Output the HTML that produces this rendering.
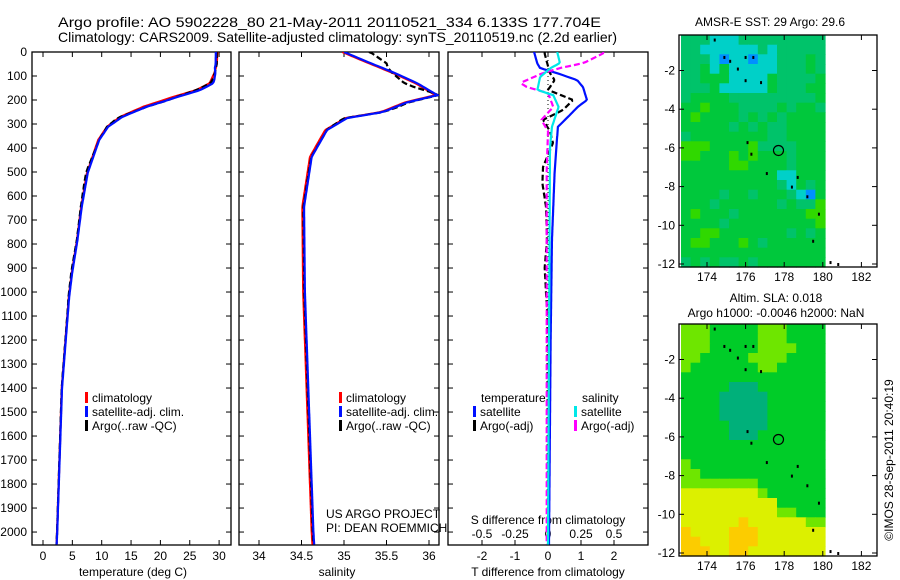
<!DOCTYPE html>
<html><head><meta charset="utf-8"><style>
body{margin:0;background:#fff}
svg{display:block;font-family:"Liberation Sans",sans-serif;font-size:12px}
</style></head><body>
<svg id="c" width="900" height="580" viewBox="0 0 900 580">
<rect width="900" height="580" fill="#fff"/>
<text x="58" y="27" font-size="14" textLength="543" lengthAdjust="spacingAndGlyphs">Argo profile: AO 5902228_80 21-May-2011 20110521_334 6.133S 177.704E</text>
<text x="58" y="42" font-size="14" textLength="559" lengthAdjust="spacingAndGlyphs">Climatology: CARS2009. Satellite-adjusted climatology: synTS_20110519.nc (2.2d earlier)</text>
<g id="g"></g>
</svg>
<script>
// ---- data ----
const depthTicks=[0,100,200,300,400,500,600,700,800,900,1000,1100,1200,1300,1400,1500,1600,1700,1800,1900,2000];
const tempTicks=[0,5,10,15,20,25,30];
const salTicks=[34,34.5,35,35.5,36];
const tdTicks=[-2,-1,0,1,2];
const sdTicks=[-0.5,-0.25,0,0.25,0.5];
const sdTickLabels=['-0.5','-0.25','0','0.25','0.5'];
const tDepth=[0,50,88,130,158,192,229,271,312,367,504,646,783,921,1021,1400,2000,2054];
const tClim=[29.7,29.6,29.2,28.4,26.2,21.6,17,13.1,10.9,9.4,7.5,6.5,5.8,4.9,4.4,3.2,2.4,2.3];
const sDepth=[0,33,88,130,180,210,250,275,325,437,645,1000,1400,2000,2054];
const sClim=[35.0,35.22,35.6,35.86,36.1,35.74,35.46,35.04,34.8,34.62,34.53,34.54,34.58,34.64,34.65];
const tSatD=[0,46,67,88,117,146,200,229,271,312,367,504,783,1200,2054];
const tSatV=[-0.42,-0.33,-0.24,0.27,0.88,1.06,1.18,0.9,0.6,0.3,0.27,0.2,0.12,0.08,0.03];
const tArgD=[8,88,117,158,200,242,283,330,379,479,546,646,783,900,1100,2054];
const tArgV=[-0.1,0.06,0.2,0.0,0.76,0.45,-0.15,0.06,0.15,-0.15,-0.17,-0.06,-0.03,-0.1,-0.02,0];
const sSatD=[0,46,67,104,158,180,229,312,400,2054];
const sSatV=[0.07,0.09,0.02,-0.06,-0.08,0.04,0.08,0.03,0.015,0];
const sArgD=[5,46,67,88,129,146,171,229,283,330,500,2054];
const sArgV=[0.42,0.27,0.09,-0.04,-0.21,-0.16,0,0.04,-0.05,0,-0.01,-0.01];
const latTicks=[-2,-4,-6,-8,-10,-12];
const lonTicks=[174,176,178,180,182];
const argoLon=177.704, argoLat=-6.133;
const sstGrid=[
"tttcccttttttttt","ttcccccctcttttt","tttcbccbcctttgt","ttgcgccccctttgt","ttgggccccgttttg","tttgcccccgtttgg",
"tggggtttttttttg","gglgggttttgtggt","glggggtgtgtgggg","gggggtgtgttgggg","tggggggggttgggg","lllgggglttttggg",
"llggglglgggtggg","gggggllggggtggg","ggggggggggccggg","ggggggggggtcgtg","ggggtggtgggtcbg","gggtggggggtgttl",
"glgggtgggggggll","ggggtgggggggggl","ggllgggggggtgtg","gllggglgtgggggg","ggggggggggggggg","tgtgttgtggggggg"];
const slaGrid=[
"LLLGGGGGLLLGGGG","LLLGGGGGLLLGGGG","LLLGGGGGLLLLGGG","LLGGGGGLLLLGGGG","LGGGGGGGLLGGGGG","GGGGGGGGGGGGGGG",
"GGGGGDDDGGGGGGG","GGGGDDDDDGGGGGG","GGGGDDDDDGGGGGG","GGGGDDDDDGGGGGG","GGGGGDDDDGGGGGG","GGGGGDDDGGGGGGG",
"GGGGGGGGGGGGGGG","GGGGGGGGGGGGGGG","LGGGGGGGGGGGGGG","LLGGGGGGGGGGGGG","LLLLLLLLGGGGGGG","YYYYYYYYLGGGGGG",
"YYYYYYYYYYGGGGG","YYYYYYYYYYLLGGG","YYYYYYOYYYYYYLL","OYYYYOOOYYYYYYY","OOYYYOOOYYYYYYY","OOOYYOOYYYYYYYY"];
const sstColors={t:'#00c36a',c:'#00d0c8',b:'#0090ff',g:'#00c83c',l:'#30d800'};
const slaColors={L:'#6ee600',G:'#00cc28',D:'#00b07a',Y:'#dcf000',O:'#fccc00'};
const coast=[[174.4,-0.4],[174.9,-1.3],[175.2,-1.5],[175.6,-1.9],[176,-1.3],[176.4,-1.3],[176,-2.5],[176.8,-2.6],[176.1,-5.7],[176.3,-6.3],[177.1,-7.3],[178.4,-8],[178.7,-7.5],[179.2,-8.5],[179.8,-9.4],[179.5,-10.8],[180.4,-11.9],[180.8,-12]];

// ---- helpers ----
const NS='http://www.w3.org/2000/svg';
const G=document.getElementById('g');
function mk(t,a,p){const e=document.createElementNS(NS,t);for(const k in a)e.setAttribute(k,a[k]);(p||G).appendChild(e);return e;}
function interp(ds,vs,d){if(d<=ds[0])return vs[0];for(let i=1;i<ds.length;i++){if(d<=ds[i]){const f=(d-ds[i-1])/(ds[i]-ds[i-1]);return vs[i-1]+f*(vs[i]-vs[i-1]);}}return vs[vs.length-1];}
const TOP=52,BOT=545,DMAX=2054;
const yD=d=>TOP+d/DMAX*(BOT-TOP);
const xT=t=>43+t*5.87;
const xS=s=>259+(s-34)*85;
const xTD=v=>548+v*33;
const xSD=v=>548+v*132;
function poly(pts,color,name,dash){const e=mk('polyline',{points:pts.map(p=>p[0].toFixed(1)+','+p[1].toFixed(1)).join(' '),fill:'none',stroke:color,'stroke-width':2.2,'clip-path':'url(#cl)'});if(dash)e.setAttribute('stroke-dasharray',dash);

return e;}
function txt(x,y,s,anchor,name,extra){const e=mk('text',Object.assign({x:x,y:y,'text-anchor':anchor||'start'},extra||{}));e.textContent=s;

return e;}

const panels=[[32,231],[239,439],[448,648]];
const defs=mk('defs',{});
panels.forEach((p,i)=>{const cp=mk('clipPath',{id:i==0?'cl':'cl'+i},defs);mk('rect',{x:p[0],y:TOP,width:p[1]-p[0],height:BOT-TOP},cp);});

panels.forEach((p,i)=>{
  const r=mk('rect',{x:p[0],y:TOP,width:p[1]-p[0],height:BOT-TOP,fill:'none',stroke:'#000','stroke-width':1.3});
  
  
  depthTicks.forEach(d=>{const y=yD(d);mk('line',{x1:p[0],x2:p[0]+5,y1:y,y2:y,stroke:'#000'});mk('line',{x1:p[1]-5,x2:p[1],y1:y,y2:y,stroke:'#000'});});
});
depthTicks.forEach(d=>txt(27,yD(d)+4,String(d),'end','depth-tick-label'));
tempTicks.forEach(t=>{mk('line',{x1:xT(t),x2:xT(t),y1:TOP,y2:TOP+5,stroke:'#000'});mk('line',{x1:xT(t),x2:xT(t),y1:BOT-5,y2:BOT,stroke:'#000'});txt(xT(t),560,String(t),'middle','temp-tick-label');});
txt(133,576,'temperature (deg C)','middle','x-axis-title-temperature');
salTicks.forEach(s=>{mk('line',{x1:xS(s),x2:xS(s),y1:TOP,y2:TOP+5,stroke:'#000'});mk('line',{x1:xS(s),x2:xS(s),y1:BOT-5,y2:BOT,stroke:'#000'});txt(xS(s),560,String(s),'middle','salinity-tick-label');});
txt(337,576,'salinity','middle','x-axis-title-salinity');
tdTicks.forEach(v=>{mk('line',{x1:xTD(v),x2:xTD(v),y1:TOP,y2:TOP+5,stroke:'#000'});mk('line',{x1:xTD(v),x2:xTD(v),y1:BOT-5,y2:BOT,stroke:'#000'});txt(xTD(v),560,String(v),'middle','tdiff-tick-label');});
sdTicks.forEach((v,i)=>txt(xSD(v),538,sdTickLabels[i],'middle','sdiff-tick-label'));
txt(548,524,'S difference from climatology','middle','sdiff-axis-title');
txt(548,576,'T difference from climatology','middle','tdiff-axis-title');
mk('line',{x1:548,x2:548,y1:TOP,y2:BOT,stroke:'#000','stroke-dasharray':'1,3'});

const dense=[];for(let d=0;d<=DMAX;d+=6)dense.push(d);
poly(dense.map(d=>[xT(interp(tDepth,tClim,d)),yD(d)]),'#f00','temp-climatology-line');
poly(dense.map(d=>[xT(interp(tDepth,tClim,d)+interp(tArgD,tArgV,d)),yD(d)]),'#000','temp-argo-line','6,3');
poly(dense.map(d=>[xT(interp(tDepth,tClim,d)+interp(tSatD,tSatV,d)*0.6),yD(d)]),'#0010ff','temp-satellite-line');
poly(dense.map(d=>[xS(interp(sDepth,sClim,d)-0.02),yD(d)]),'#f00','sal-climatology-line').setAttribute('clip-path','url(#cl1)');
poly(dense.map(d=>[xS(interp(sDepth,sClim,d)+interp(sArgD,sArgV,d)*0.7),yD(d)]),'#000','sal-argo-line','6,3').setAttribute('clip-path','url(#cl1)');
poly(dense.map(d=>[xS(interp(sDepth,sClim,d)),yD(d)]),'#0010ff','sal-satellite-line').setAttribute('clip-path','url(#cl1)');
poly(dense.map(d=>[xTD(interp(tArgD,tArgV,d)),yD(d)]),'#000','tdiff-argo-line','6,3').setAttribute('clip-path','url(#cl2)');
poly(dense.map(d=>[xTD(interp(tSatD,tSatV,d)),yD(d)]),'#0010ff','tdiff-satellite-line').setAttribute('clip-path','url(#cl2)');
poly(dense.map(d=>[xSD(interp(sArgD,sArgV,d)),yD(d)]),'#ff00ff','sdiff-argo-line','6,3').setAttribute('clip-path','url(#cl2)');
poly(dense.map(d=>[xSD(interp(sSatD,sSatV,d)),yD(d)]),'#00e8e8','sdiff-satellite-line').setAttribute('clip-path','url(#cl2)');

function leg(x,y,c,s,name){const r=mk('rect',{x:x,y:y-10,width:3,height:11,fill:c});txt(x+7,y,s,'start',name);}
[[85,'#f00','climatology'],[85,'#0010ff','satellite-adj. clim.'],[85,'#000','Argo(..raw -QC)']].forEach((l,i)=>leg(l[0],402+i*14,l[1],l[2],'legend-entry-temp'));
[[339,'#f00','climatology'],[339,'#0010ff','satellite-adj. clim.'],[339,'#000','Argo(..raw -QC)']].forEach((l,i)=>leg(l[0],402+i*14,l[1],l[2],'legend-entry-sal'));
txt(326,518,'US ARGO PROJECT','start','project-label');
txt(326,532,'PI: DEAN ROEMMICH','start','pi-label');
txt(481,402,'temperature','start','legend-header-temperature');
txt(582,402,'salinity','start','legend-header-salinity');
leg(473,416,'#0010ff','satellite','legend-entry-tdiff-sat');
leg(473,430,'#000','Argo(-adj)','legend-entry-tdiff-argo');
leg(574,416,'#00e8e8','satellite','legend-entry-sdiff-sat');
leg(574,430,'#ff00ff','Argo(-adj)','legend-entry-sdiff-argo');

function drawMap(top,bottom,grid,colors,name){
  const L=679,R=877;
  const xL=lon=>707+(lon-174)*19.3;
  const y0=bottom-3;
  const ppd=19.35;
  const yy=lat=>y0-(lat+12)*ppd;
  const cols=grid[0].length;
  const cw=(825-681)/cols;
  const gh=(bottom-top)/grid.length;
  grid.forEach((row,r)=>{for(let c=0;c<cols;c++){const col=colors[row[c]]||colors[Object.keys(colors)[0]];
    mk('rect',{x:(681+c*cw).toFixed(1),y:(top+r*gh).toFixed(1),width:(cw+0.6).toFixed(1),height:(gh+0.6).toFixed(1),fill:col});}});
  coast.forEach(p=>{const e=mk('rect',{x:xL(p[0])-1,y:yy(p[1])-1,width:2,height:3,fill:'#000'});});
  const ci=mk('circle',{cx:xL(argoLon),cy:yy(argoLat),r:5,fill:'none',stroke:'#000','stroke-width':1.2});
  
  
  const f=mk('rect',{x:L,y:top,width:R-L,height:bottom-top,fill:'none',stroke:'#000','stroke-width':1.3});
  
  
  latTicks.forEach(l=>{const y=yy(l);mk('line',{x1:L,x2:L+5,y1:y,y2:y,stroke:'#000'});mk('line',{x1:R-5,x2:R,y1:y,y2:y,stroke:'#000'});txt(L-4,y+4,String(l),'end','map-lat-label');});
  lonTicks.forEach(l=>{const x=xL(l);mk('line',{x1:x,x2:x,y1:top,y2:top+5,stroke:'#000'});mk('line',{x1:x,x2:x,y1:bottom-5,y2:bottom,stroke:'#000'});txt(x,bottom+14,String(l),'middle','map-lon-label');});
}
drawMap(35,267,sstGrid,sstColors,'sst-map');
drawMap(324,556,slaGrid,slaColors,'sla-map');
txt(770,26,'AMSR-E SST: 29 Argo: 29.6','middle','sst-map-title');
txt(776,302,'Altim. SLA: 0.018','middle','sla-map-title');
txt(776,317,'Argo h1000: -0.0046 h2000: NaN','middle','sla-map-subtitle');
txt(893,460,'©IMOS 28-Sep-2011 20:40:19','middle','imos-credit',{transform:'rotate(-90 893 460)'});
</script>
</body></html>
